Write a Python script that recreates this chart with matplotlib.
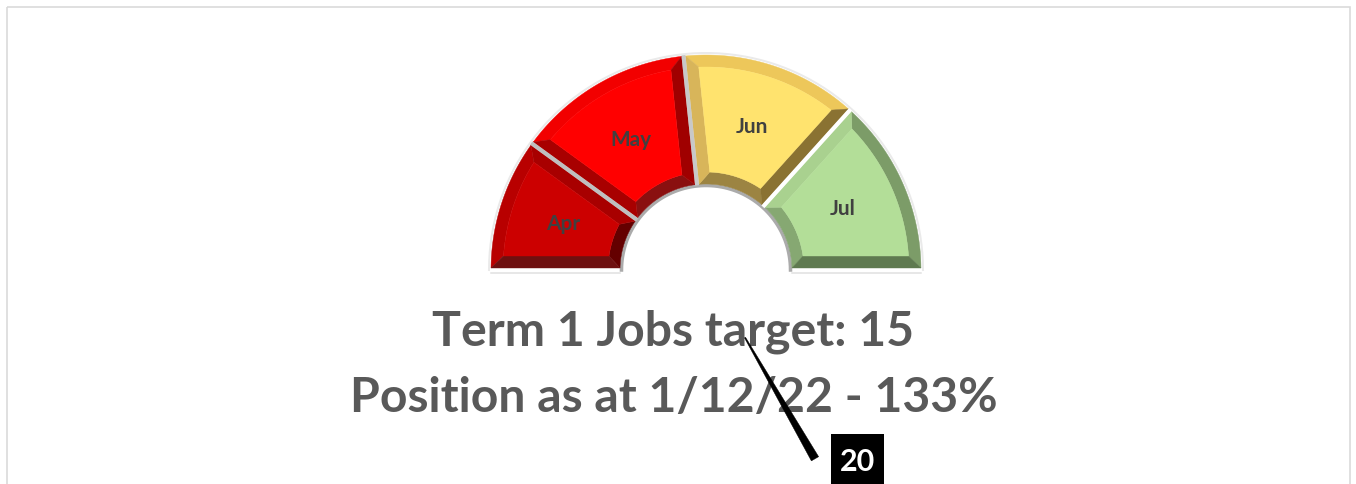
import numpy as np
import matplotlib
matplotlib.use("Agg")
import matplotlib.pyplot as plt
from matplotlib.patches import Polygon, Rectangle

# ---- data ----
months = ["Apr", "May", "Jun", "Jul"]
values = [3, 4, 4, 4]
target = 15
actual = 20
title_line1 = "Term 1 Jobs target: 15"
title_line2 = "Position as at 1/12/22 - 133%"
needle_label = "20"

# colours per segment: face, outer band, inner band, side (high angle), side (low angle)
face_colors = ["#CC0000", "#FF0000", "#FFE36E", "#B3DE98"]
outer_colors = ["#B80000", "#F20000", "#EDC75A", "#7C9C68"]
inner_colors = ["#640000", "#8A1010", "#9C8442", "#86A872"]
side_hi_colors = ["#6E1010", "#A80000", "#D8B55A", "#A9D18F"]
side_lo_colors = ["#A80000", "#A00000", "#8A7232", "#5F7A50"]
sep_colors = ["#BFBFBF", "#C8C8C8", "#FFFFFF"]

FONT = ["Lato", "DejaVu Sans"]

W, H = 1356, 484
fig = plt.figure(figsize=(W / 100, H / 100), dpi=100)
ax = fig.add_axes([0, 0, 1, 1])
ax.set_xlim(0, W)
ax.set_ylim(H, 0)
ax.axis("off")

PX = 72 / 100  # points per pixel

cx, cy = 706, 270
r_in, r_out = 86, 215
bev = 12
gap = 2


def pt(r, deg):
    return (cx + r * np.cos(np.radians(deg)), cy - r * np.sin(np.radians(deg)))


def off(d, r):
    return np.degrees(np.arcsin(min(d / r, 1)))


def arc(r, a0, a1, n=80):
    return [pt(r, a) for a in np.linspace(a0, a1, n)]


# border
ax.add_patch(Rectangle((6.5, 6.5), 1343, 700, fill=False, edgecolor="#D9D9D9",
                       lw=1.6 * PX, zorder=0))

# angles from data
total = sum(values)
cum = np.concatenate([[0], np.cumsum(values)])
angles = 180 - 180 * cum / total

# faint outer outline and hole rim
ax.plot(*zip(*arc(r_out + 2, 0, 180)), color="#EAEAEA", lw=2 * PX, zorder=1)
ax.plot(*zip(*arc(r_in - 1.5, 0, 180)), color="#ABABAB", lw=3.5 * PX, zorder=1)

for i, m in enumerate(months):
    a_hi, a_lo = angles[i], angles[i + 1]
    g = gap
    d = gap + bev
    ro_f, ri_f = r_out - bev, r_in + bev
    o_hi = pt(r_out, a_hi - off(g, r_out)); o_lo = pt(r_out, a_lo + off(g, r_out))
    i_hi = pt(r_in, a_hi - off(g, r_in)); i_lo = pt(r_in, a_lo + off(g, r_in))
    fo_hi = pt(ro_f, a_hi - off(d, ro_f)); fo_lo = pt(ro_f, a_lo + off(d, ro_f))
    fi_hi = pt(ri_f, a_hi - off(d, ri_f)); fi_lo = pt(ri_f, a_lo + off(d, ri_f))

    outer_arc = arc(r_out, a_hi - off(g, r_out), a_lo + off(g, r_out))
    inner_arc = arc(r_in, a_hi - off(g, r_in), a_lo + off(g, r_in))
    face_out = arc(ro_f, a_hi - off(d, ro_f), a_lo + off(d, ro_f))
    face_in = arc(ri_f, a_hi - off(d, ri_f), a_lo + off(d, ri_f))

    kw = dict(closed=True, lw=0.3, zorder=2)
    ax.add_patch(Polygon(outer_arc + face_out[::-1], facecolor=outer_colors[i],
                         edgecolor=outer_colors[i], **kw))
    ax.add_patch(Polygon(inner_arc + face_in[::-1], facecolor=inner_colors[i],
                         edgecolor=inner_colors[i], **kw))
    ax.add_patch(Polygon([o_hi, fo_hi, fi_hi, i_hi], facecolor=side_hi_colors[i],
                         edgecolor=side_hi_colors[i], **kw))
    ax.add_patch(Polygon([o_lo, fo_lo, fi_lo, i_lo], facecolor=side_lo_colors[i],
                         edgecolor=side_lo_colors[i], **kw))
    ax.add_patch(Polygon(face_out + face_in[::-1], closed=True, facecolor=face_colors[i],
                         edgecolor=face_colors[i], lw=0.3, zorder=3))

    mid = (a_hi + a_lo) / 2
    lx, ly = pt(150, mid)
    ax.text(lx, ly, m, ha="center", va="center", fontsize=15, fontweight="bold",
            color="#404040", family=FONT, zorder=4)

# separators
for j in range(len(months) - 1):
    a = angles[j + 1]
    p0, p1 = pt(r_in - 1, a), pt(r_out + 1, a)
    ax.plot([p0[0], p1[0]], [p0[1], p1[1]], color=sep_colors[j], lw=4 * PX,
            solid_capstyle="butt", zorder=3.5)

# base line under segments
ax.plot([cx - r_out, cx - r_in], [cy + 2.5, cy + 2.5], color="#E0E0E0", lw=1.5 * PX, zorder=1)
ax.plot([cx + r_in, cx + r_out], [cy + 2.5, cy + 2.5], color="#E0E0E0", lw=1.5 * PX, zorder=1)

# titles (auto-fit width)
fig.canvas.draw()
renderer = fig.canvas.get_renderer()


def fitted_text(s, x, y, width):
    t = ax.text(x, y, s, ha="center", va="baseline", fontsize=30, fontweight="bold",
                color="#595959", family=FONT, zorder=5)
    bb = t.get_window_extent(renderer)
    t.set_fontsize(30 * width / bb.width)
    return t


fitted_text(title_line1, 672.5, 345, 481)
fitted_text(title_line2, 673.5, 412, 647)

# needle
na = 180 - 180 * actual / target
u = np.array([np.cos(np.radians(na)), -np.sin(np.radians(na))])
v = np.array([-u[1], u[0]])
c = np.array([cx, cy])
r0, r1 = 78, 218
w0, w1 = 0.6, 4.2
needle = [c + u * r0 + v * w0, c + u * r1 + v * w1, c + u * r1 - v * w1, c + u * r0 - v * w0]
ax.add_patch(Polygon(needle, closed=True, facecolor="black", edgecolor="black", lw=0.3, zorder=6))

# needle value label
ax.add_patch(Rectangle((831, 434), 53, 60, facecolor="black", edgecolor="none", zorder=6))
ax.text(857.5, 462, needle_label, ha="center", va="center", fontsize=22, fontweight="bold",
        color="white", family=FONT, zorder=7)

fig.savefig("out.png", dpi=100)
